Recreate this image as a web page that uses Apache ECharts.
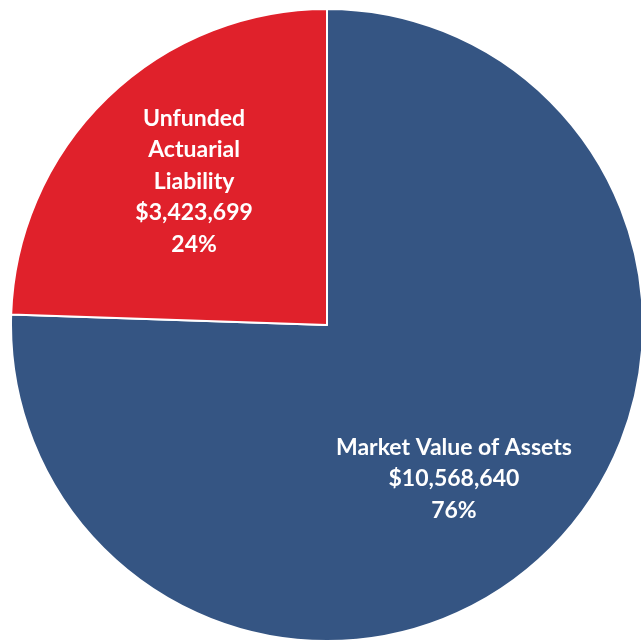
<!DOCTYPE html>
<html>
<head>
<meta charset="utf-8">
<script src="https://cdn.jsdelivr.net/npm/echarts@6/dist/echarts.min.js"></script>
<style>
html,body{margin:0;padding:0;background:#fff;}
#c{width:641px;height:644px;}
</style>
</head>
<body>
<div id="c"></div>
<script>
const categories = ['Market Value of Assets', 'Unfunded\nActuarial\nLiability'];
const values = [10568640, 3423699];
const colors = ['#355583', '#E0212B'];
const labelOffsets = [[15, 38], [-21, -28]];

const chart = echarts.init(document.getElementById('c'), null, {renderer: 'canvas'});
chart.setOption({
  backgroundColor: '#ffffff',
  animation: false,
  series: [{
    type: 'pie',
    center: [327, 325],
    radius: 316,
    startAngle: 90,
    clockwise: true,
    avoidLabelOverlap: false,
    itemStyle: {borderColor: '#ffffff', borderWidth: 2},
    label: {
      show: true,
      position: 'inside',
      color: '#ffffff',
      fontFamily: 'Lato',
      fontWeight: 'bold',
      fontSize: 23,
      lineHeight: 31.5,
      align: 'center',
      formatter: function (p) {
        return p.name + '\n$' + p.value.toLocaleString('en-US') + '\n' + Math.round(p.percent) + '%';
      }
    },
    labelLine: {show: false},
    emphasis: {disabled: true},
    data: categories.map((n, i) => ({
      name: n,
      value: values[i],
      itemStyle: {color: colors[i]},
      label: {offset: labelOffsets[i]}
    }))
  }]
});
</script>
</body>
</html>
